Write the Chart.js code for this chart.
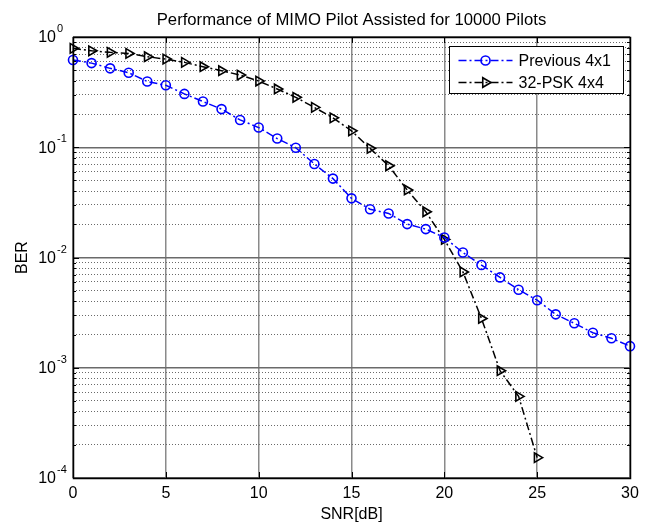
<!DOCTYPE html>
<html lang="en">
<head>
<meta charset="UTF-8">
<title>Performance of MIMO Pilot Assisted for 10000 Pilots</title>
<script src="https://cdn.jsdelivr.net/npm/chart.js"></script>
<style>
  body { margin: 0; background: #fff; }
  #ber-chart { display: block; }
</style>
</head>
<body>
<canvas id="ber-chart" width="648" height="524"></canvas>
<script>
// SNR in dB (x axis)
const snrDb = [0, 1, 2, 3, 4, 5, 6, 7, 8, 9, 10, 11, 12, 13, 14, 15,
  16, 17, 18, 19, 20, 21, 22, 23, 24, 25, 26, 27, 28, 29, 30];
const pskSnr = [0, 1, 2, 3, 4, 5, 6, 7, 8, 9, 10, 11, 12, 13, 14, 15,
  16, 17, 18, 19, 20, 21, 22, 23, 24, 25];

// BER values
const prevBer = [0.62, 0.58, 0.52, 0.475, 0.395, 0.365, 0.305, 0.26, 0.222, 0.177,
  0.151, 0.12, 0.099, 0.0705, 0.052, 0.0344, 0.0274, 0.0251, 0.0201, 0.0181,
  0.0152, 0.0111, 0.00855, 0.0066, 0.0051, 0.0041, 0.00305, 0.00253, 0.00208, 0.00185, 0.00157];
const pskBer = [0.79, 0.75, 0.726, 0.71, 0.663, 0.631, 0.589, 0.538, 0.495, 0.452,
  0.399, 0.338, 0.284, 0.23, 0.185, 0.141, 0.0978, 0.068, 0.041, 0.026,
  0.0146, 0.0074, 0.0028, 0.00094, 0.00055, 0.000153];

// y axis decades and their exponent labels
const yDecades = [1e-4, 1e-3, 1e-2, 1e-1, 1];
const yExponents = ['-4', '-3', '-2', '-1', '0'];
const yMinor = [1, 2, 3, 4, 5, 6, 7, 8, 9];

const FONT = "'Liberation Sans', Arial, sans-serif";

function isDecade(v) {
  const l = Math.log10(v);
  return Math.abs(l - Math.round(l)) < 1e-9;
}

const toPts = (xs, ys) => ys.map((y, i) => ({ x: xs[i], y: y }));

// frame, inward ticks, y tick labels with exponents, and a matlab style legend
const matlabPlugin = {
  id: 'matlab',
  afterDraw(chart) {
    const { ctx, chartArea: a, scales: { x, y } } = chart;
    ctx.save();
    ctx.strokeStyle = '#000';
    ctx.lineWidth = 1;

    y.ticks.forEach(t => {
      const py = Math.round(y.getPixelForValue(t.value)) + 0.5;
      const len = isDecade(t.value) ? 6 : 3;
      ctx.beginPath();
      ctx.moveTo(a.left, py); ctx.lineTo(a.left + len, py);
      ctx.moveTo(a.right, py); ctx.lineTo(a.right - len, py);
      ctx.stroke();
    });
    x.ticks.forEach(t => {
      const px = Math.round(x.getPixelForValue(t.value)) + 0.5;
      ctx.beginPath();
      ctx.moveTo(px, a.top); ctx.lineTo(px, a.top + 6);
      ctx.moveTo(px, a.bottom); ctx.lineTo(px, a.bottom - 6);
      ctx.stroke();
    });

    ctx.lineWidth = 1.5;
    ctx.strokeRect(Math.round(a.left) + 0.5, Math.round(a.top) + 0.5,
      Math.round(a.right - a.left), Math.round(a.bottom - a.top));

    // y labels: 10 with superscript exponent
    ctx.fillStyle = '#000';
    ctx.textBaseline = 'middle';
    yDecades.forEach((v, i) => {
      const py = y.getPixelForValue(v);
      ctx.font = '16px ' + FONT;
      ctx.textAlign = 'right';
      ctx.fillText('10', a.left - 17, py + 1);
      ctx.font = '11px ' + FONT;
      ctx.textAlign = 'left';
      ctx.fillText(yExponents[i], a.left - 16, py - 8);
    });

    // legend
    const boxW = 174, boxH = 47;
    const bx = Math.round(a.right - 7 - boxW) + 0.5;
    const by = Math.round(a.top + 9) + 0.5;
    ctx.fillStyle = '#fff';
    ctx.fillRect(bx, by, boxW, boxH);
    ctx.lineWidth = 1;
    ctx.strokeStyle = '#000';
    ctx.strokeRect(bx, by, boxW, boxH);
    chart.data.datasets.forEach((ds, i) => {
      const ry = by + 14 + i * 22;
      ctx.save();
      ctx.strokeStyle = ds.borderColor;
      ctx.lineWidth = ds.borderWidth;
      ctx.setLineDash(ds.borderDash);
      ctx.beginPath();
      ctx.moveTo(bx + 9, ry); ctx.lineTo(bx + 63, ry);
      ctx.stroke();
      ctx.setLineDash([]);
      ctx.fillStyle = 'rgba(0,0,0,0)';
      ctx.lineWidth = ds.pointBorderWidth;
      Chart.helpers.drawPoint(ctx, {
        pointStyle: ds.pointStyle, rotation: ds.pointRotation || 0,
        radius: ds.pointRadius, borderWidth: ds.pointBorderWidth
      }, bx + 36, ry);
      ctx.restore();
      ctx.fillStyle = '#000';
      ctx.font = '16px ' + FONT;
      ctx.textAlign = 'left';
      ctx.textBaseline = 'middle';
      ctx.fillText(ds.label, bx + 69, ry + 1);
    });
    ctx.restore();
  }
};

new Chart(document.getElementById('ber-chart').getContext('2d'), {
  type: 'line',
  data: {
    datasets: [{
      label: 'Previous 4x1',
      data: toPts(snrDb, prevBer),
      borderColor: '#0000ff',
      borderWidth: 1.5,
      borderDash: [8, 3, 2, 3],
      pointStyle: 'circle',
      pointRadius: 4.5,
      pointBorderWidth: 1.6,
      pointBorderColor: '#0000ff',
      pointBackgroundColor: 'rgba(0,0,0,0)',
      clip: 10
    }, {
      label: '32-PSK 4x4',
      data: toPts(pskSnr, pskBer),
      borderColor: '#000000',
      borderWidth: 1.5,
      borderDash: [8, 3, 2, 3],
      pointStyle: 'triangle',
      pointRotation: 90,
      pointRadius: 5.5,
      pointBorderWidth: 1.6,
      pointBorderColor: '#000000',
      pointBackgroundColor: 'rgba(0,0,0,0)',
      clip: 10
    }]
  },
  options: {
    responsive: false,
    animation: false,
    layout: { padding: { left: 0, right: 18, top: 0, bottom: 0 } },
    plugins: {
      legend: { display: false },
      tooltip: { enabled: false },
      title: {
        display: true,
        fullSize: false,
        text: 'Performance of MIMO Pilot Assisted for 10000 Pilots',
        color: '#000',
        font: { family: FONT, size: 16.7, weight: 'normal' },
        padding: { top: 10, bottom: 7 }
      }
    },
    scales: {
      x: {
        type: 'linear',
        min: 0,
        max: 30,
        ticks: { stepSize: 5, color: '#000', padding: 6, font: { family: FONT, size: 16 } },
        grid: { color: '#8a8a8a', lineWidth: 1.5, drawTicks: false },
        border: { display: false },
        title: { display: true, text: 'SNR[dB]', color: '#000',
          font: { family: FONT, size: 16 }, padding: { top: 0, bottom: 0 } },
        afterFit(scale) { scale.height = 46; }
      },
      y: {
        type: 'logarithmic',
        min: 1e-4,
        max: 1,
        afterBuildTicks(scale) {
          const ticks = [];
          yDecades.slice(0, -1).forEach(d => yMinor.forEach(m => ticks.push({ value: d * m })));
          ticks.push({ value: 1 });
          scale.ticks = ticks;
        },
        ticks: { display: false, autoSkip: false },
        grid: {
          drawTicks: false,
          color: ctx => ctx.tick && isDecade(ctx.tick.value) ? '#6a6a6a' : '#6a6a6a',
          lineWidth: ctx => ctx.tick && isDecade(ctx.tick.value) ? 1.5 : 1
        },
        border: {
          display: false,
          dash: ctx => ctx.tick && !isDecade(ctx.tick.value) ? [1, 2] : []
        },
        title: { display: true, text: 'BER', color: '#000',
          font: { family: FONT, size: 16 }, padding: { top: 13, bottom: 0 } },
        afterFit(scale) { scale.width = 73; }
      }
    }
  },
  plugins: [matlabPlugin]
});
</script>
</body>
</html>
